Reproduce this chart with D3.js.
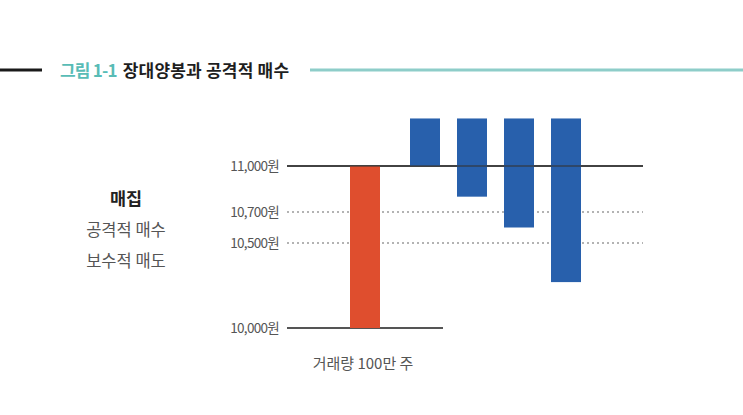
<!DOCTYPE html>
<html>
<head>
<meta charset="utf-8">
<script src="https://cdn.jsdelivr.net/npm/d3@7"></script>
<style>
  body { margin: 0; background: #fff; }
  svg { display: block; font-family: "Noto Sans CJK KR", "Noto Sans", sans-serif; }
</style>
</head>
<body>
<div id="graph-holder"></div>
<script>
// price levels shown as guide lines
var levelValues = [11000, 10700, 10500, 10000];
var levelLabels = ["11,000원", "10,700원", "10,500원", "10,000원"];
var levelDashed = [false, true, true, false];

// candles: [low, high]
var candleLow = [10000, 11000, 10800, 10600, 10270];
var candleHigh = [11000, 11310, 11310, 11310, 11310];
var candleKind = ["up", "down", "down", "down", "down"];

var sideTexts = ["매집", "공격적 매수", "보수적 매도"];
var titleNum = "그림 1-1";
var titleText = "장대양봉과 공격적 매수";
var xCaption = "거래량 100만 주";

var width = 743, height = 415;
var barWidth = 30;

var svg = d3.select("#graph-holder")
  .append("svg")
  .attr("width", width)
  .attr("height", height);

// title bar
svg.append("line")
  .attr("x1", 0).attr("x2", 42).attr("y1", 70).attr("y2", 70)
  .attr("stroke", "#1a1a1a").attr("stroke-width", 3);
svg.append("line")
  .attr("x1", 310).attr("x2", width).attr("y1", 70).attr("y2", 70)
  .attr("stroke", "#8ecdc9").attr("stroke-width", 3);

var title = svg.append("text")
  .attr("x", 60).attr("y", 77)
  .style("font-size", "17px")
  .style("font-weight", "bold");
title.append("tspan").attr("fill", "#58bcb6").style("letter-spacing", "-0.8px").text(titleNum);
title.append("tspan").attr("fill", "#1e1e1e").attr("dx", 6).style("letter-spacing", "0.2px").text(titleText);

// scales (price axis is slightly uneven in the original)
var y = d3.scaleLinear()
  .domain([10000, 10500, 10700, 11000])
  .range([328, 243, 212, 166]);

// the volume candle sits a bit apart from the others
var x = d3.scaleLinear()
  .domain([0, 1, 4])
  .range([350, 410, 551]);

// level lines
levelValues.forEach(function (v, i) {
  var x2 = (i == 3) ? 443 : 643;
  svg.append("line")
    .attr("x1", 287).attr("x2", x2)
    .attr("y1", y(v)).attr("y2", y(v))
    .attr("stroke", levelDashed[i] ? "#9a9a9a" : "#555")
    .attr("stroke-width", levelDashed[i] ? 1.3 : 2)
    .attr("stroke-dasharray", levelDashed[i] ? "2,3" : null);
  svg.append("text")
    .attr("x", 279).attr("y", y(v) + 5)
    .attr("text-anchor", "end")
    .attr("fill", "#555")
    .style("font-size", "13.5px")
    .style("letter-spacing", "-0.7px")
    .text(levelLabels[i]);
});

// candles
svg.selectAll(".candle")
  .data(candleLow)
  .enter()
  .append("rect")
  .attr("class", "candle")
  .attr("x", function (d, i) { return x(i); })
  .attr("width", barWidth)
  .attr("y", function (d, i) { return y(candleHigh[i]); })
  .attr("height", function (d, i) { return y(d) - y(candleHigh[i]); })
  .attr("fill", function (d, i) { return candleKind[i] == "up" ? "#df4e2e" : "#2860ac"; });

// redraw the 11,000 line over the blue bars
svg.append("line")
  .attr("x1", 287).attr("x2", 643)
  .attr("y1", y(11000)).attr("y2", y(11000))
  .attr("stroke", "#333").attr("stroke-opacity", 0.55)
  .attr("stroke-width", 2);

// caption under the volume bar
svg.append("text")
  .attr("x", 363).attr("y", 369)
  .attr("text-anchor", "middle")
  .attr("fill", "#555")
  .style("font-size", "15px")
  .text(xCaption);

// left side notes
sideTexts.forEach(function (t, i) {
  svg.append("text")
    .attr("x", 126).attr("y", 205 + i * 31)
    .attr("text-anchor", "middle")
    .attr("fill", i == 0 ? "#222" : "#555")
    .style("font-size", i == 0 ? "17.5px" : "16.5px")
    .style("font-weight", i == 0 ? "bold" : "normal")
    .text(t);
});
</script>
</body>
</html>
